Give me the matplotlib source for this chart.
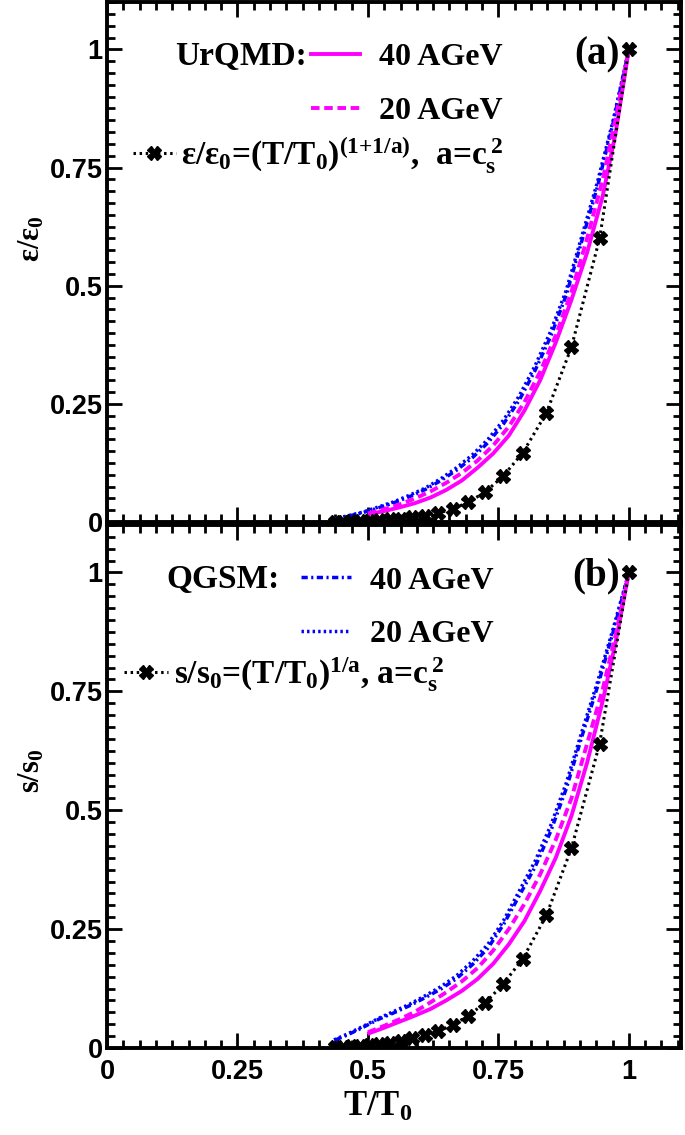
import matplotlib
matplotlib.use("Agg")
import matplotlib.pyplot as plt
from matplotlib.ticker import MultipleLocator
from matplotlib.lines import Line2D

# ---------------- data ----------------
# black model points: T/T0
model_T = [1.0, 0.944, 0.890, 0.842, 0.797, 0.759, 0.724, 0.692, 0.663, 0.635,
           0.609, 0.585, 0.563, 0.542, 0.522, 0.503, 0.485, 0.468, 0.452, 0.437]
# panel (a): eps/eps0 = (T/T0)^(1+1/a)
model_eps = [1.0, 0.600, 0.370, 0.231, 0.147, 0.097, 0.063, 0.042, 0.028, 0.019,
             0.013, 0.010, 0.0075, 0.0055, 0.004, 0.003, 0.002, 0.0015, 0.001, 0.0008]
# panel (b): s/s0 = (T/T0)^(1/a)
model_s = [1.0, 0.640, 0.420, 0.279, 0.188, 0.134, 0.094, 0.068, 0.048, 0.036,
           0.027, 0.020, 0.015, 0.011, 0.008, 0.006, 0.0045, 0.0035, 0.0026, 0.002]

# panel (a) curves
a_urqmd40_T = [0.506, 0.53, 0.56, 0.59, 0.62, 0.65, 0.68, 0.71, 0.74, 0.77, 0.80,
               0.83, 0.86, 0.89, 0.92, 0.95, 0.975, 1.0]
a_urqmd40_y = [0.018, 0.023, 0.031, 0.040, 0.052, 0.068, 0.088, 0.115, 0.145, 0.183,
               0.236, 0.300, 0.380, 0.470, 0.570, 0.690, 0.825, 1.0]
a_urqmd20_T = [0.50, 0.53, 0.56, 0.59, 0.62, 0.65, 0.68, 0.71, 0.74, 0.77, 0.80,
               0.83, 0.86, 0.89, 0.92, 0.95, 0.975, 1.0]
a_urqmd20_y = [0.018, 0.027, 0.037, 0.050, 0.065, 0.083, 0.104, 0.130, 0.162, 0.202,
               0.254, 0.318, 0.395, 0.487, 0.600, 0.725, 0.855, 1.0]
a_qgsm40_T = [0.435, 0.46, 0.49, 0.52, 0.55, 0.58, 0.61, 0.64, 0.67, 0.70, 0.73,
              0.76, 0.79, 0.82, 0.85, 0.88, 0.91, 0.94, 0.97, 1.0]
a_qgsm40_y = [0.006, 0.012, 0.020, 0.030, 0.041, 0.054, 0.069, 0.088, 0.110, 0.136,
              0.168, 0.208, 0.258, 0.320, 0.392, 0.480, 0.595, 0.710, 0.845, 1.0]
a_qgsm20_T = [0.432, 0.46, 0.49, 0.52, 0.55, 0.58, 0.61, 0.64, 0.67, 0.70, 0.73,
              0.76, 0.79, 0.82, 0.85, 0.88, 0.91, 0.94, 0.97, 1.0]
a_qgsm20_y = [0.006, 0.013, 0.021, 0.032, 0.043, 0.057, 0.072, 0.092, 0.115, 0.142,
              0.175, 0.216, 0.267, 0.330, 0.403, 0.490, 0.605, 0.720, 0.850, 1.0]

# panel (b) curves
b_urqmd40_T = [0.5025, 0.53, 0.56, 0.59, 0.62, 0.65, 0.68, 0.71, 0.74, 0.77, 0.80,
               0.83, 0.86, 0.89, 0.92, 0.95, 0.975, 1.0]
b_urqmd40_y = [0.031, 0.042, 0.055, 0.068, 0.082, 0.100, 0.120, 0.145, 0.177, 0.218,
               0.267, 0.330, 0.400, 0.488, 0.600, 0.730, 0.855, 1.0]
b_urqmd20_T = [0.50, 0.53, 0.56, 0.59, 0.62, 0.65, 0.68, 0.71, 0.74, 0.77, 0.80,
               0.83, 0.86, 0.89, 0.92, 0.95, 0.975, 1.0]
b_urqmd20_y = [0.033, 0.046, 0.060, 0.076, 0.096, 0.117, 0.140, 0.168, 0.205, 0.250,
               0.303, 0.365, 0.438, 0.525, 0.640, 0.755, 0.870, 1.0]
b_qgsm40_T = [0.438, 0.46, 0.49, 0.52, 0.55, 0.58, 0.61, 0.64, 0.67, 0.70, 0.73,
              0.76, 0.79, 0.82, 0.85, 0.88, 0.91, 0.94, 0.97, 1.0]
b_qgsm40_y = [0.017, 0.027, 0.043, 0.060, 0.074, 0.089, 0.106, 0.124, 0.146, 0.175,
              0.210, 0.260, 0.320, 0.380, 0.455, 0.545, 0.655, 0.760, 0.875, 1.0]
b_qgsm20_T = [0.435, 0.46, 0.49, 0.52, 0.55, 0.58, 0.61, 0.64, 0.67, 0.70, 0.73,
              0.76, 0.79, 0.82, 0.85, 0.88, 0.91, 0.94, 0.97, 1.0]
b_qgsm20_y = [0.017, 0.029, 0.045, 0.062, 0.077, 0.092, 0.110, 0.129, 0.152, 0.182,
              0.218, 0.268, 0.330, 0.392, 0.467, 0.557, 0.665, 0.770, 0.882, 1.0]

xticks = [0, 0.25, 0.5, 0.75, 1]
xticklabels = ['0', '0.25', '0.5', '0.75', '1']
yticks = [0, 0.25, 0.5, 0.75, 1]
yticklabels = ['0', '0.25', '0.5', '0.75', '1']

# ---------------- style ----------------
plt.rcParams['font.family'] = ['Liberation Serif', 'DejaVu Serif']
plt.rcParams['font.weight'] = 'bold'
plt.rcParams['mathtext.fontset'] = 'custom'
plt.rcParams['mathtext.rm'] = 'Liberation Serif:bold'
plt.rcParams['mathtext.it'] = 'Liberation Serif:bold'
plt.rcParams['mathtext.bf'] = 'Liberation Serif:bold'

MAG = '#FF00FF'
BLUE = '#0000FF'
st_solid = dict(color=MAG, lw=2.8, ls='-')
st_dash = dict(color=MAG, lw=2.8, ls=(0, (2.2, 1.2)))
st_dashdot = dict(color=BLUE, lw=2.5, ls=(0, (1.8, 1.0, 0.6, 1.0)))
st_dot = dict(color=BLUE, lw=2.5, ls=(0, (0.7, 0.9)))
st_model = dict(color='black', lw=2.2, ls=(0, (0.8, 1.2)), marker='X', ms=9.5,
                mfc='black', mec='black')

fig = plt.figure(figsize=(6.85, 11.35), dpi=100)
ax1 = fig.add_axes([0.1562, 0.5400, 0.8380, 0.4582])
ax2 = fig.add_axes([0.1562, 0.0767, 0.8380, 0.4608])

TFS = 19.5
def style_axes(ax, show_xlabels):
    ax.set_xlim(0, 1.1)
    ax.set_ylim(0, 1.1)
    ax.set_xticks(xticks)
    ax.set_yticks(yticks)
    ax.set_yticklabels(yticklabels, fontfamily='Liberation Sans', fontweight='bold', fontsize=TFS)
    if show_xlabels:
        ax.set_xticklabels(xticklabels, fontfamily='Liberation Sans', fontweight='bold', fontsize=TFS)
    else:
        ax.set_xticklabels([])
    ax.xaxis.set_minor_locator(MultipleLocator(0.03125))
    ax.yaxis.set_minor_locator(MultipleLocator(0.025))
    ax.tick_params(which='both', direction='in', top=True, right=True, width=2)
    ax.tick_params(which='major', length=11)
    ax.tick_params(which='minor', length=5.5)
    ax.tick_params(axis='y', pad=3)
    ax.tick_params(axis='x', pad=8)
    for sp in ax.spines.values():
        sp.set_linewidth(2.8)

# panel (a)
ax1.plot(a_qgsm40_T, a_qgsm40_y, **st_dashdot)
ax1.plot(a_qgsm20_T, a_qgsm20_y, **st_dot)
ax1.plot(a_urqmd40_T, a_urqmd40_y, **st_solid)
ax1.plot(a_urqmd20_T, a_urqmd20_y, **st_dash)
ax1.plot(model_T, model_eps, **st_model)
style_axes(ax1, False)
ax1.set_ylabel(r'$ε/ε_0$', fontsize=22)
ax1.yaxis.set_label_coords(-0.105, 0.545)

# panel (b)
ax2.plot(b_qgsm40_T, b_qgsm40_y, **st_dashdot)
ax2.plot(b_qgsm20_T, b_qgsm20_y, **st_dot)
ax2.plot(b_urqmd40_T, b_urqmd40_y, **st_solid)
ax2.plot(b_urqmd20_T, b_urqmd20_y, **st_dash)
ax2.plot(model_T, model_s, **st_model)
style_axes(ax2, True)
ax2.set_ylabel(r'$s/s_0$', fontsize=22)
ax2.yaxis.set_label_coords(-0.105, 0.53)
ax2.set_xlabel(r'$T/T_0$', fontsize=25, labelpad=4)
ax2.xaxis.label.set_x(0.472)

# ---------------- legends ----------------
LFS = 23
FFS = 24
def h(style):
    return Line2D([], [], **style)

leg1 = ax1.legend([h(st_solid), h(st_dash)], ['40 AGeV', '20 AGeV'],
                  loc='upper left', bbox_to_anchor=(0.355, 0.921), frameon=False,
                  prop=dict(family='Liberation Serif', weight='bold', size=LFS),
                  handlelength=1.55, handletextpad=0.6, labelspacing=0.75,
                  borderpad=0, borderaxespad=0)
ax1.add_artist(leg1)
ax1.legend([h(st_model)], [r'$ε/ε_0$=$(T/T_0)^{(1{+}1/a)}$,  a=$c_s^{\,2}$'],
           loc='upper left', bbox_to_anchor=(0.045, 0.745), frameon=False,
           prop=dict(family='Liberation Serif', weight='bold', size=FFS),
           handlelength=1.3, handletextpad=0.15, numpoints=1,
           borderpad=0, borderaxespad=0)
ax1.text(0.348, 0.895, 'UrQMD:', transform=ax1.transAxes, ha='right', va='center',
         fontsize=24, fontweight='bold')
ax1.text(0.894, 0.898, '(a)', transform=ax1.transAxes, ha='right', va='center',
         fontsize=28, fontweight='bold')

leg2 = ax2.legend([h(st_dashdot), h(st_dot)], ['40 AGeV', '20 AGeV'],
                  loc='upper left', bbox_to_anchor=(0.338, 0.921), frameon=False,
                  prop=dict(family='Liberation Serif', weight='bold', size=LFS),
                  handlelength=1.55, handletextpad=0.6, labelspacing=0.75,
                  borderpad=0, borderaxespad=0)
ax2.add_artist(leg2)
ax2.legend([h(st_model)], [r'$s/s_0$=$(T/T_0)^{1/a}$, a=$c_s^{\,2}$'],
           loc='upper left', bbox_to_anchor=(0.03, 0.751), frameon=False,
           prop=dict(family='Liberation Serif', weight='bold', size=FFS),
           handlelength=1.3, handletextpad=0.2, numpoints=1,
           borderpad=0, borderaxespad=0)
ax2.text(0.30, 0.895, 'QGSM:', transform=ax2.transAxes, ha='right', va='center',
         fontsize=24, fontweight='bold')
ax2.text(0.894, 0.902, '(b)', transform=ax2.transAxes, ha='right', va='center',
         fontsize=28, fontweight='bold')

fig.savefig('out.png', dpi=100)
